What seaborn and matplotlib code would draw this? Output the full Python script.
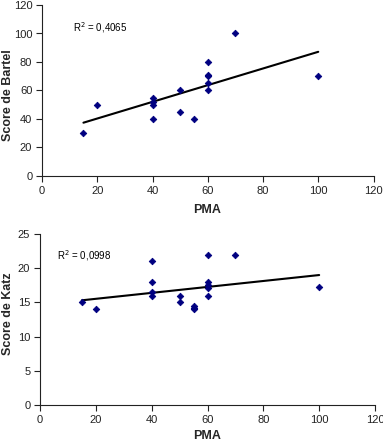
import matplotlib
matplotlib.use("Agg")
import matplotlib.pyplot as plt
import seaborn as sns
import pandas as pd

sns.set_style("ticks")
plt.rcParams['font.family'] = ['Liberation Sans', 'DejaVu Sans']

# Top panel: PMA vs Score de Bartel
pma_bartel = [15, 20, 40, 40, 40, 40, 50, 50, 55, 60, 60, 60, 60, 60, 70, 100]
bartel = [30, 50, 55, 52, 50, 40, 60, 45, 40, 80, 71, 70, 65, 60, 100, 70]
r2_bartel = "R$^2$ = 0,4065"

# Bottom panel: PMA vs Score de Katz
pma_katz = [15, 20, 40, 40, 40, 40, 50, 50, 55, 55, 55, 60, 60, 60, 60, 60, 70, 100]
katz = [15, 14, 21, 18, 16.5, 16, 16, 15, 14.5, 14.2, 14, 22, 18, 17.6, 17.1, 16, 22, 17.3]
r2_katz = "R$^2$ = 0,0998"

x_ticks = [0, 20, 40, 60, 80, 100, 120]
bartel_ticks = [0, 20, 40, 60, 80, 100, 120]
katz_ticks = [0, 5, 10, 15, 20, 25]

W, H = 383, 442
fig = plt.figure(figsize=(W / 100, H / 100), dpi=100)

def ax_rect(l, t, r, b):
    return [l / W, 1 - b / H, (r - l) / W, (b - t) / H]

ax1 = fig.add_axes(ax_rect(42, 5, 373.5, 176))
ax2 = fig.add_axes(ax_rect(40, 234, 375, 405))

df1 = pd.DataFrame({"PMA": pma_bartel, "Bartel": bartel})
df2 = pd.DataFrame({"PMA": pma_katz, "Katz": katz})

common_scatter = dict(s=11, color="#000080", edgecolor="#000080", linewidths=0.6, zorder=3, alpha=1)
common_line = dict(color="black", linewidth=1.5, zorder=2)

sns.regplot(data=df1, x="PMA", y="Bartel", ax=ax1, ci=None, marker="D",
            scatter_kws=common_scatter, line_kws=common_line)
sns.regplot(data=df2, x="PMA", y="Katz", ax=ax2, ci=None, marker="D",
            scatter_kws=common_scatter, line_kws=common_line)

for ax, yt, ylab, r2, r2pos, ylab_y, xlab_y in [
    (ax1, bartel_ticks, "Score de Bartel", r2_bartel, (73, 28), 95, 210),
    (ax2, katz_ticks, "Score de Katz", r2_katz, (57, 256), 314, 436),
]:
    ax.set_xlim(0, 120)
    ax.set_ylim(yt[0], yt[-1])
    ax.set_xticks(x_ticks)
    ax.set_yticks(yt)
    ax.set_xlabel("PMA", fontsize=9, fontweight="bold")
    ax.set_ylabel(ylab, fontsize=9, fontweight="bold")
    ax.xaxis.set_label_coords(207 / W, 1 - xlab_y / H, transform=fig.transFigure)
    ax.xaxis.label.set_va("center")
    ax.yaxis.set_label_coords(8 / W, 1 - ylab_y / H, transform=fig.transFigure)
    ax.yaxis.label.set_va("center")
    ax.tick_params(labelsize=8, length=4, width=0.8, colors="#222222", labelcolor="#222222",
                   direction="out", pad=3)
    for s in ["top", "right"]:
        ax.spines[s].set_visible(False)
    for s in ["left", "bottom"]:
        ax.spines[s].set_linewidth(0.8)
        ax.spines[s].set_color("#222222")
    ax.text(r2pos[0] / W, 1 - r2pos[1] / H, r2, transform=fig.transFigure,
            fontsize=7, va="center", ha="left", color="black")

fig.savefig("out.png", dpi=100)
